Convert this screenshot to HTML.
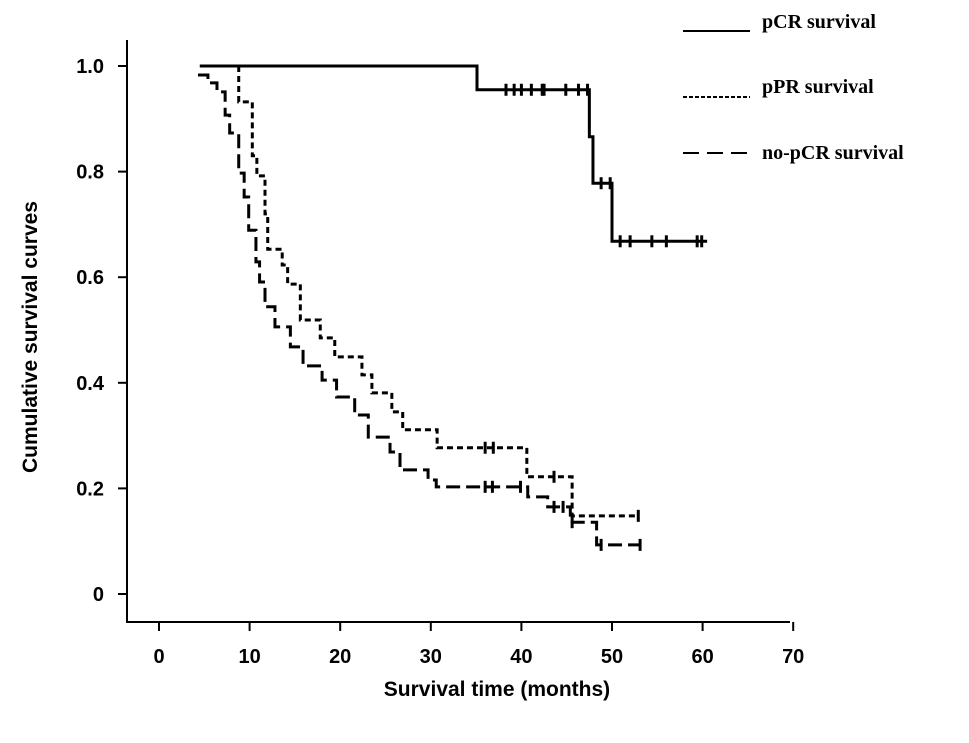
<!DOCTYPE html>
<html><head><meta charset="utf-8"><style>body{margin:0;background:#fff}svg text{font-family:"Liberation Sans",Arial,sans-serif;font-weight:bold}</style></head>
<body>
<svg id="chart" width="969" height="738" xmlns="http://www.w3.org/2000/svg">
<g id="axes"></g>
<g id="series"></g>
<text transform="translate(37,337) rotate(-90)" text-anchor="middle" font-size="21">Cumulative survival curves</text>
<text x="497" y="696" text-anchor="middle" font-size="21">Survival time (months)</text>
<g>
<line x1="683" y1="31" x2="750" y2="31" stroke="#000" stroke-width="2"/>
<text x="762" y="28" font-size="20" style="font-family:'Liberation Serif',serif">pCR survival</text>
<line x1="683" y1="97" x2="750" y2="97" stroke="#000" stroke-width="2" stroke-dasharray="4 2"/>
<text x="762" y="93" font-size="20" style="font-family:'Liberation Serif',serif">pPR survival</text>
<line x1="683" y1="153" x2="750" y2="153" stroke="#000" stroke-width="2" stroke-dasharray="16 8"/>
<text x="762" y="159" font-size="20" style="font-family:'Liberation Serif',serif">no-pCR survival</text>
</g>
</svg>
<script>
const xTicks=[0,10,20,30,40,50,60,70];
const yTicks=[0,0.2,0.4,0.6,0.8,1.0];
const yTickLabels=["0","0.2","0.4","0.6","0.8","1.0"];
const pcrStart=4.5, pcrEnd=60.5;
const pcrTimes=[35.1,47.5,47.9,50.0];
const pcrSurv=[0.955,0.866,0.778,0.668];
const pcrCensorT=[38.3,39.2,40,41.1,42.3,42.5,44.9,46.3,47.3,48.8,49.8,50.9,52,54.4,56,59.4,59.9];
const pcrCensorS=[0.955,0.955,0.955,0.955,0.955,0.955,0.955,0.955,0.955,0.778,0.778,0.668,0.668,0.668,0.668,0.668,0.668];
const pprStart=8.8, pprEnd=52.9;
const pprTimes=[8.8,10.3,10.8,11.7,12.0,13.6,14.2,15.6,17.8,19.4,22.4,23.5,25.7,26.9,30.7,40.6,45.6];
const pprSurv=[0.932,0.83,0.792,0.72,0.653,0.623,0.587,0.519,0.485,0.449,0.415,0.381,0.345,0.311,0.277,0.222,0.148];
const pprCensorT=[36.0,36.9,43.6,52.9];
const pprCensorS=[0.277,0.277,0.222,0.148];
const noStart=4.3, noEnd=53.1, noStartS=0.983;
const noTimes=[5.4,6.4,7.3,7.8,8.8,9.4,9.9,10.7,11.1,11.7,12.8,14.5,15.9,18,19.6,21.6,23.1,25.5,26.6,29.7,30.6,40.7,42.9,45.4,48.3];
const noSurv=[0.968,0.951,0.907,0.873,0.797,0.752,0.689,0.629,0.591,0.544,0.506,0.468,0.432,0.405,0.373,0.339,0.297,0.269,0.235,0.216,0.203,0.184,0.165,0.136,0.093];
const noCensorT=[36.0,36.8,39.9,43.6,44.6,45.6,48.8,53.1];
const noCensorS=[0.203,0.203,0.203,0.165,0.165,0.136,0.093,0.093];

const NS="http://www.w3.org/2000/svg";
const X=t=>159+t*9.06, Y=s=>594-s*528;
function mk(tag,attrs,parent){const e=document.createElementNS(NS,tag);for(const k in attrs)e.setAttribute(k,attrs[k]);parent.appendChild(e);return e;}
const ax=document.getElementById('axes'), se=document.getElementById('series');
let e=mk('line',{x1:127,y1:40,x2:127,y2:622,stroke:'#000','stroke-width':2},ax);


e=mk('line',{x1:126,y1:622,x2:790,y2:622,stroke:'#000','stroke-width':2},ax);


xTicks.forEach(t=>{mk('line',{x1:X(t),y1:622,x2:X(t),y2:631,stroke:'#000','stroke-width':2},ax);
 const tx=mk('text',{x:X(t),y:663,'text-anchor':'middle','font-size':20},ax);tx.textContent=t;
 
 });
yTicks.forEach((v,i)=>{mk('line',{x1:118,y1:Y(v),x2:127,y2:Y(v),stroke:'#000','stroke-width':2},ax);
 const tx=mk('text',{x:104,y:Y(v)+7,'text-anchor':'end','font-size':20},ax);tx.textContent=yTickLabels[i];
 
 });
function curve(name,start,s0,times,surv,end,dash,ct,cs){
 let d=`M${X(start)},${Y(s0)}`;
 times.forEach((t,i)=>{d+=` H${X(t)} V${Y(surv[i])}`;});
 d+=` H${X(end)}`;
 const p=mk('path',{d:d,fill:'none',stroke:'#000','stroke-width':3,'stroke-dasharray':dash},se);
 
 
 ct.forEach((t,i)=>{const c=mk('line',{x1:X(t),y1:Y(cs[i])-6,x2:X(t),y2:Y(cs[i])+6,stroke:'#000','stroke-width':3},se);
  
  });
}
curve('pcr-curve',pcrStart,1.0,pcrTimes,pcrSurv,pcrEnd,'none',pcrCensorT,pcrCensorS);
curve('ppr-curve',pprStart,1.0,pprTimes,pprSurv,pprEnd,'6 4',pprCensorT,pprCensorS);
curve('no-pcr-curve',noStart,noStartS,noTimes,noSurv,noEnd,'14 6',noCensorT,noCensorS);
</script>
</body></html>
